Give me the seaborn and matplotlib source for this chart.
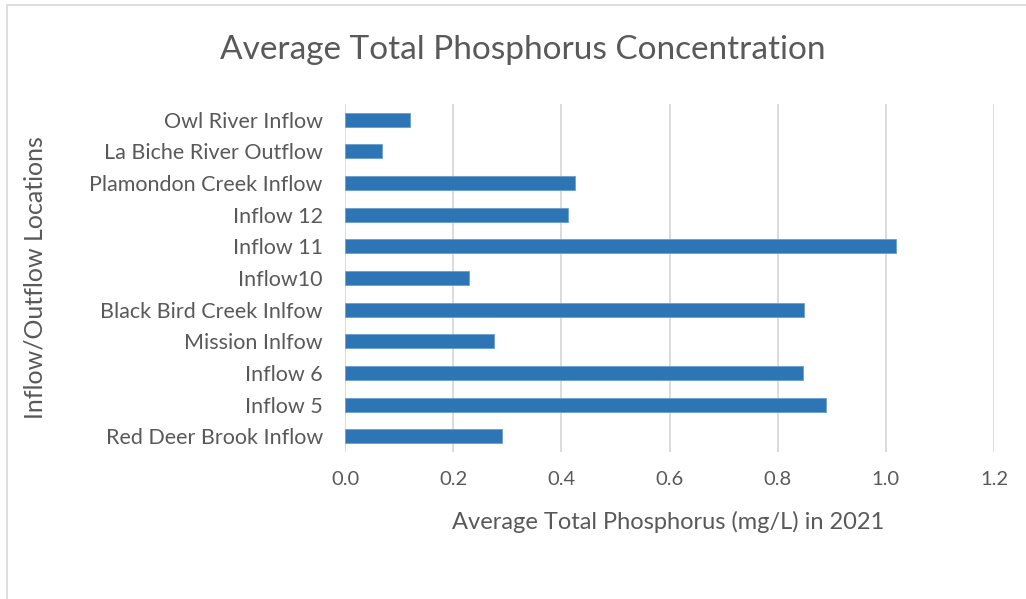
import numpy as np
import pandas as pd
import seaborn as sns
import matplotlib.pyplot as plt
from matplotlib.patches import Rectangle

# data (top to bottom)
locations = ['Owl River Inflow', 'La Biche River Outflow', 'Plamondon Creek Inflow',
             'Inflow 12', 'Inflow 11', 'Inflow10', 'Black Bird Creek Inlfow',
             'Mission Inlfow', 'Inflow 6', 'Inflow 5', 'Red Deer Brook Inflow']
phosphorus = [0.120, 0.069, 0.425, 0.413, 1.018, 0.229, 0.848, 0.276, 0.846, 0.890, 0.290]
x_ticks = [0.0, 0.2, 0.4, 0.6, 0.8, 1.0, 1.2]

df = pd.DataFrame({'location': locations, 'tp': phosphorus})

sns.set_theme(style='white')
plt.rcParams['font.family'] = ['Lato', 'DejaVu Sans']
text_col = '#595959'

fig = plt.figure(figsize=(10.26, 5.99), dpi=100)
# light chart border like the spreadsheet frame
fig.patches.append(Rectangle((7 / 1026, -0.01), 1.1, 1 - 5 / 599 + 0.01, transform=fig.transFigure,
                             fill=False, edgecolor='#D9D9D9', linewidth=1.2))
ax = fig.add_axes([345 / 1026, 1 - 452 / 599, (994 - 345) / 1026, (452 - 104) / 599])

sns.barplot(data=df, x='tp', y='location', orient='h', color='#2E75B6',
            width=0.44, edgecolor='#6A9FD0', linewidth=0.6, saturation=1, ax=ax)

ax.set_xlim(0, 1.2)
ax.set_xticks(x_ticks)
ax.set_xticklabels([f'{t:.1f}' for t in x_ticks])
ax.xaxis.grid(True, color='#D9D9D9', linewidth=1.3)
ax.set_axisbelow(True)
for s in ax.spines.values():
    s.set_visible(False)
ax.tick_params(axis='both', length=0, colors=text_col)
ax.tick_params(axis='x', pad=14, labelsize=14.5)
ax.tick_params(axis='y', pad=16, labelsize=15.5)

ax.set_xlabel('Average Total Phosphorus (mg/L) in 2021', fontsize=17, color=text_col)
ax.xaxis.set_label_coords((668 - 345) / 649, (452 - 522) / 348)
ax.xaxis.label.set_va('center')
ax.set_ylabel('Inflow/Outflow Locations', fontsize=18, color=text_col)
ax.yaxis.set_label_coords((35 - 345) / 649, (452 - 278) / 348)
ax.yaxis.label.set_va('center')
fig.text(523 / 1026, 1 - 50 / 599, 'Average Total Phosphorus Concentration',
         ha='center', va='center', fontsize=24, color=text_col)

fig.savefig('out.png', dpi=100)
